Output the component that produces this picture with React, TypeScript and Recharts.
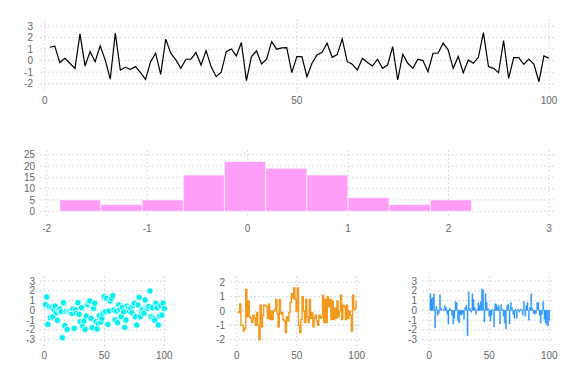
import React from 'react';
import {
  LineChart,
  Line,
  BarChart,
  Bar,
  ScatterChart,
  Scatter,
  XAxis,
  YAxis,
  CartesianGrid,
} from 'recharts';

// ---- data ----
const lineValues = [
  1.16, 1.25, -0.17, 0.2, -0.23, -0.67, 2.32, -0.46, 0.78, -0.09,
  1.28, 0.06, -1.6, 2.38, -0.81, -0.58, -0.75, -0.52, -1.04, -1.62,
  -0.09, 0.64, -1.19, 1.86, 0.65, 0.06, -0.67, 0.12, 0.12, 0.7,
  -0.38, 0.87, -0.52, -1.39, -1.01, 0.78, 1.01, 0.41, 1.57, -1.74,
  0.35, 0.84, -0.29, 0.12, 1.65, 0.99, 1.1, 1.13, -1.04, 0.35,
  0.35, -1.39, -0.23, 0.49, 0.72, 1.51, 0.29, 0.52, 1.88, -0.09,
  -0.32, -0.81, 0.2, -0.17, -0.46, 0.12, -0.67, -0.38, 1.22, -1.68,
  0.55, -0.23, -0.67, 0.12, 0.0, -0.96, 0.64, 0.64, 1.51, 0.93,
  -0.67, 0.35, -1.04, 0.06, -0.23, 0.29, 2.43, -0.52, -0.67, -1.04,
  1.74, -1.54, 0.26, 0.26, -0.32, 0.14, -0.29, -1.83, 0.41, 0.2,
];

const histEdges = [-1.87, -1.46, -1.05, -0.64, -0.23, 0.18, 0.59, 1.0, 1.41, 1.82, 2.23];
const histCounts = [5, 3, 5, 16, 22, 19, 16, 6, 3, 5];

const scatterValues = [
  0.58, 1.37, -1.43, 0.38, -0.75, 0.3, -0.65, 0.1, 0.44, -0.24,
  -1.02, 0.05, 0.14, -0.14, -2.8, 0.78, -1.57, -0.1, -1.95, -0.14,
  -0.14, -0.24, -0.3, 0.15, -1.84, 0.03, -0.3, 0.78, -0.41, -1.16,
  0.27, -1.6, -1.09, -1.95, -0.58, 0.6, 0.89, 0.96, -0.82, -1.77,
  0.2, 0.72, -1.16, -1.91, -1.33, -0.55, -1.2, -0.82, -0.3, 1.4,
  -0.14, 1.23, -1.43, -0.07, 0.96, 1.23, 1.5, 0.03, -0.99, -0.07,
  -1.26, 0.55, 0.1, -0.65, 0.3, -0.14, -1.74, -0.99, 0.44, 0.2,
  -0.07, 0.2, -0.24, 0.5, 0.72, -0.65, -1.5, 0.55, 1.33, -0.65,
  -0.14, 0.1, -0.3, 1.06, 0.27, 0.2, 0.4, 1.98, -0.65, 0.27,
  -0.82, -0.99, 0.72, 0.27, -1.5, -0.58, 0.5, -0.48, 0.72, 0.2,
];

const stepValues = [
  -0.05, -0.1, 0.5, -1.0, -1.0, -1.4, -1.2, 1.5, -0.4, 0.7,
  -0.4, -0.5, -0.8, -0.3, -0.5, -1.0, -0.1, -1.0, -2.0, 0.4,
  -1.1, -0.3, 0.4, 0.4, 0.3, -0.5, 0.5, -0.6, 0.0, -0.6,
  0.0, 0.1, 0.8, -0.2, -1.1, 0.8, -0.2, -0.1, -0.6, -0.7,
  -1.5, -0.4, -0.7, -0.1, 0.6, 1.2, 0.9, 1.6, 0.8, 0.0,
  1.6, -1.0, -1.5, -0.6, 1.0, 0.0, -0.8, 0.8, -0.4, -0.8,
  0.8, -0.5, -0.1, -1.1, -0.5, -0.3, -0.7, -1.0, -0.3, -0.5,
  -0.4, 1.1, -0.8, 0.8, -0.8, 1.0, 0.3, 0.8, -0.6, 0.7,
  -0.6, 0.2, -0.5, 0.7, -0.4, 0.0, 1.1, -0.6, 0.4, 0.3,
  -0.6, 0.4, -0.5, 0.0, -0.3, -1.4, 1.1, 0.1, 0.2, 0.7,
];

const barValues = [
  1.7, 1.2, 1.3, 1.7, -1.8, 0.4, -0.5, -0.3, 1.6, 0.2,
  0.0, 0.1, 0.5, 0.3, -0.4, -1.4, 0.2, 0.1, -0.5, -1.4,
  -0.8, 0.9, 0.8, -1.1, -1.3, -0.4, -0.5, -0.3, -0.9, 0.3,
  0.5, -2.6, 1.9, 0.2, -0.2, 1.7, 1.1, 0.3, -0.4, 0.1,
  0.8, 0.5, 0.9, 2.2, 2.1, -1.2, 1.7, 0.8, 0.2, -0.6,
  -1.1, -0.5, 0.1, -1.7, 0.7, 0.6, 0.3, 0.5, -1.4, 0.6,
  0.1, -0.6, -1.3, -1.9, 0.5, 0.6, -1.4, 0.8, 0.3, -0.4,
  -0.8, 0.1, -0.8, 0.1, -0.2, 0.1, 0.1, -0.5, 0.9, -0.6,
  0.5, 0.8, -1.0, 0.3, 1.7, 0.2, -0.3, -0.4, -0.3, 0.8,
  0.8, -0.5, -1.3, -0.4, 0.9, -0.9, -1.3, -1.5, -1.6, -1.0,
];

const xTicks100 = [0, 50, 100];
const yTicksTop = [-2, -1, 0, 1, 2, 3];
const xTicksHist = [-2, -1, 0, 1, 2, 3];
const yTicksHist = [0, 5, 10, 15, 20, 25];
const yTicks3 = [-3, -2, -1, 0, 1, 2, 3];
const yTicks2 = [-2, -1, 0, 1, 2];

// ---- derived tables ----
const lineData = lineValues.map((v, i) => ({ x: i + 1, y: v }));
const histData = histCounts.map((c, i) => ({
  x: (histEdges[i] + histEdges[i + 1]) / 2,
  count: c,
}));
const scatterData = scatterValues.map((v, i) => ({ x: i + 1, y: v }));
const stepData = stepValues.map((v, i) => ({ x: i + 1, y: v }));
const barData = barValues.map((v, i) => ({ x: i + 1, y: v }));

// ---- styles ----
const tickStyle = { fill: '#666', fontSize: 10, fontFamily: '"Liberation Sans", Arial, sans-serif' };
const gridStroke = '#d9d9e6';
const gridDash = '2 2';

const CyanDot = (props: any) => {
  const { cx, cy } = props;
  if (cx == null || cy == null) return null;
  return <circle cx={cx} cy={cy} r={3.2} fill="#00f0f0" stroke="#fff" strokeWidth={0.8} />;
};

const axisCommon = {
  axisLine: false,
  tickLine: false,
  tickSize: 0,
  interval: 0 as const,
  tick: tickStyle,
};

export default function App() {
  return (
    <div style={{ position: 'absolute', left: 0, top: 0, width: 576, height: 384, background: '#fff' }}>
      {/* top line chart */}
      <div style={{ position: 'absolute', left: 0, top: 0 }}>
        <LineChart width={576} height={115} data={lineData} margin={{ top: 19, right: 20, bottom: 3, left: 10 }}>
          <CartesianGrid stroke={gridStroke} strokeDasharray={gridDash} syncWithTicks />
          <XAxis
            {...axisCommon}
            dataKey="x"
            type="number"
            domain={[0, 100]}
            ticks={xTicks100}
            padding={{ left: 4.7, right: 7 }}
            tickMargin={4.5}
            height={20}
          />
          <YAxis
            {...axisCommon}
            type="number"
            domain={[-2, 3]}
            ticks={yTicksTop}
            padding={{ top: 7, bottom: 8.3 }}
            tickMargin={7}
            width={30}
          />
          <Line dataKey="y" stroke="#000" strokeWidth={1.2} dot={false} isAnimationActive={false} type="linear" />
        </LineChart>
      </div>

      {/* histogram */}
      <div style={{ position: 'absolute', left: 0, top: 130 }}>
        <BarChart
          width={576}
          height={110}
          data={histData}
          margin={{ top: 20, right: 20, bottom: 2, left: 10 }}
          barCategoryGap={0}
          barGap={0}
        >
          <CartesianGrid stroke={gridStroke} strokeDasharray={gridDash} syncWithTicks />
          <XAxis
            {...axisCommon}
            dataKey="x"
            type="number"
            domain={[-2, 3]}
            ticks={xTicksHist}
            padding={{ left: 6.7, right: 7 }}
            tickMargin={7}
            height={20}
          />
          <YAxis
            {...axisCommon}
            type="number"
            domain={[0, 25]}
            ticks={yTicksHist}
            padding={{ top: 4.7, bottom: 6.7 }}
            tickMargin={5}
            width={30}
          />
          <Bar dataKey="count" fill="#ff9ef8" stroke="rgba(255,255,255,0.6)" strokeWidth={1} isAnimationActive={false} />
        </BarChart>
      </div>

      {/* scatter */}
      <div style={{ position: 'absolute', left: 0, top: 260 }}>
        <ScatterChart width={190} height={110} margin={{ top: 16, right: 22, bottom: 4, left: 10 }}>
          <CartesianGrid stroke={gridStroke} strokeDasharray={gridDash} syncWithTicks />
          <XAxis
            {...axisCommon}
            dataKey="x"
            type="number"
            domain={[0, 100]}
            ticks={xTicks100}
            padding={{ left: 4.3, right: 3.7 }}
            tickMargin={5.8}
            height={20}
          />
          <YAxis
            {...axisCommon}
            dataKey="y"
            type="number"
            domain={[-3, 3]}
            ticks={yTicks3}
            padding={{ top: 5, bottom: 6.3 }}
            tickMargin={5}
            width={30}
          />
          <Scatter data={scatterData} shape={CyanDot} isAnimationActive={false} />
        </ScatterChart>
      </div>

      {/* step line */}
      <div style={{ position: 'absolute', left: 192, top: 260 }}>
        <LineChart width={190} height={110} data={stepData} margin={{ top: 16, right: 20, bottom: 4, left: 8 }}>
          <CartesianGrid stroke={gridStroke} strokeDasharray={gridDash} syncWithTicks />
          <XAxis
            {...axisCommon}
            dataKey="x"
            type="number"
            domain={[0, 100]}
            ticks={xTicks100}
            padding={{ left: 6.7, right: 5.3 }}
            tickMargin={5.8}
            height={20}
          />
          <YAxis
            {...axisCommon}
            type="number"
            domain={[-2, 2]}
            ticks={yTicks2}
            padding={{ top: 6.3, bottom: 6.3 }}
            tickMargin={5}
            width={30}
          />
          <Line dataKey="y" type="step" stroke="#f39a1c" strokeWidth={1.4} dot={false} isAnimationActive={false} />
        </LineChart>
      </div>

      {/* bars */}
      <div style={{ position: 'absolute', left: 384, top: 260 }}>
        <BarChart
          width={192}
          height={110}
          data={barData}
          margin={{ top: 16, right: 22, bottom: 4, left: 8 }}
          barCategoryGap={0}
          barGap={0}
        >
          <CartesianGrid stroke={gridStroke} strokeDasharray={gridDash} syncWithTicks />
          <XAxis
            {...axisCommon}
            dataKey="x"
            type="number"
            domain={[0, 100]}
            ticks={xTicks100}
            padding={{ left: 7.3, right: 4.7 }}
            tickMargin={5.8}
            height={20}
          />
          <YAxis
            {...axisCommon}
            type="number"
            domain={[-3, 3]}
            ticks={yTicks3}
            padding={{ top: 5, bottom: 6.3 }}
            tickMargin={5}
            width={30}
          />
          <Bar dataKey="y" fill="#1e90ff" stroke="#1e90ff" strokeWidth={0.4} isAnimationActive={false} />
        </BarChart>
      </div>
    </div>
  );
}
